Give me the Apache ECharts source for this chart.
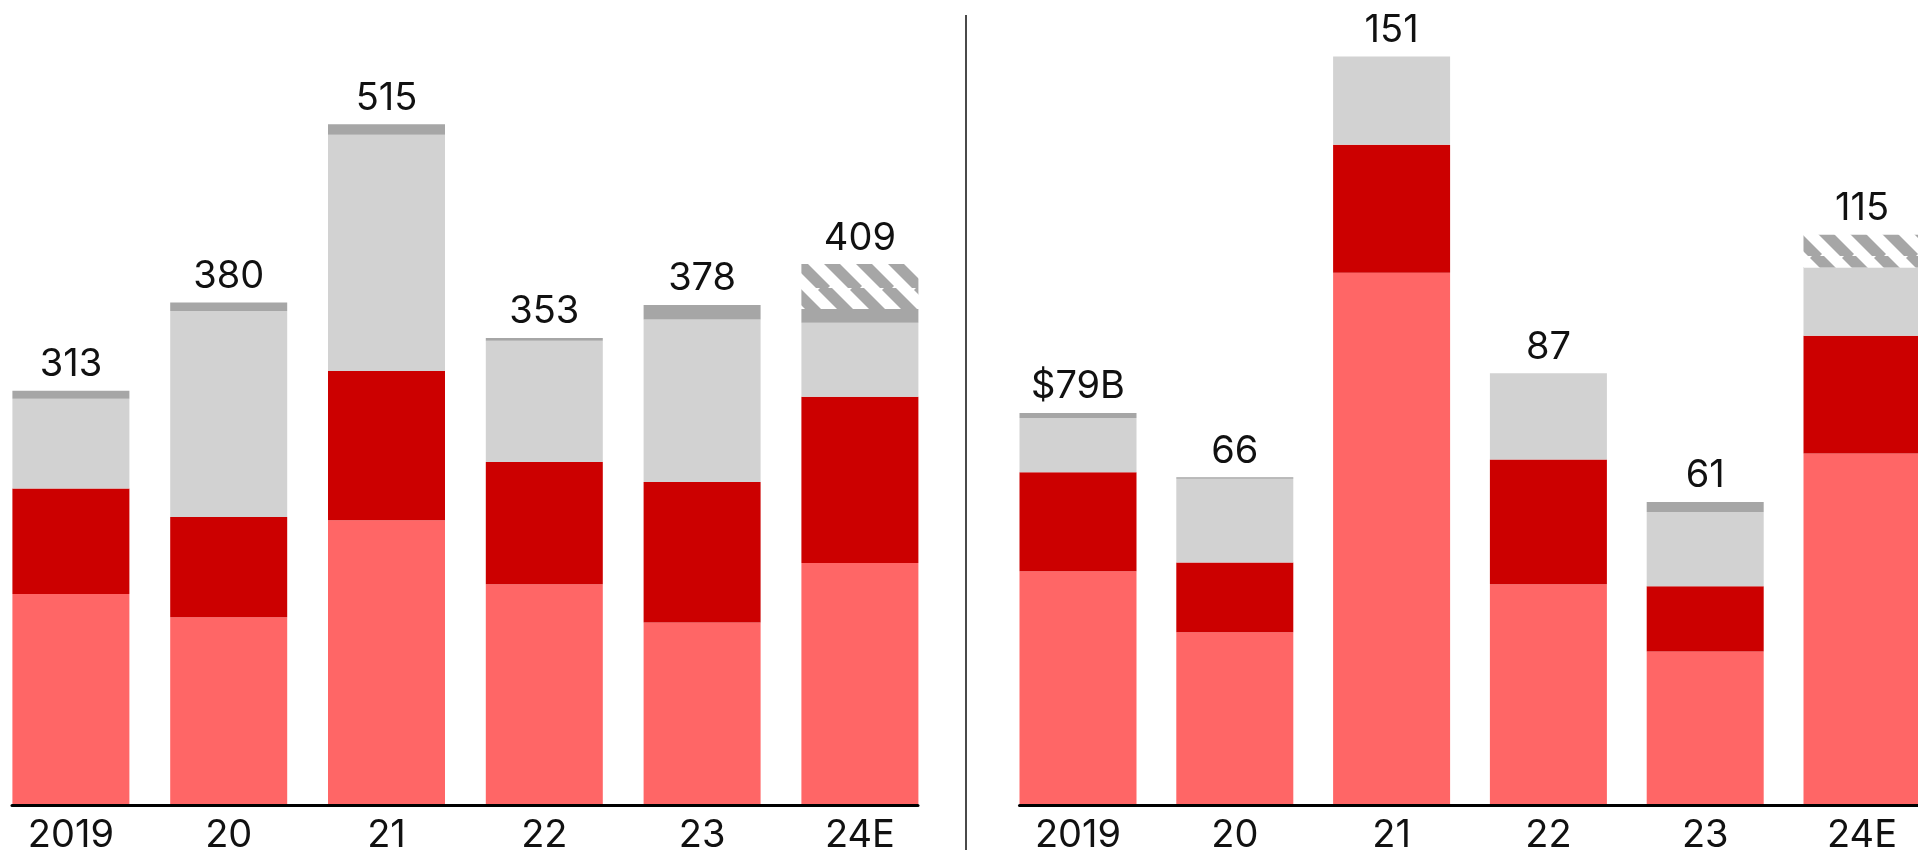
<!DOCTYPE html>
<html>
<head>
<meta charset="utf-8">
<script src="https://cdn.jsdelivr.net/npm/echarts@6/dist/echarts.min.js"></script>
<style>
  html, body { margin: 0; padding: 0; background: #ffffff; overflow: hidden; }
  /* canvas runs 40px past both window edges so the outer bars can sit flush */
  #chart { width: 1998px; height: 855px; margin-left: -40px; }
</style>
</head>
<body>
<div id="chart"></div>
<script>
// Year labels shared by both panels
const years = ['2019', '20', '21', '22', '23', '24E'];

// Left panel segments (bottom to top)
const leftBase  = [159, 141.5, 215, 166.5, 137.5, 182.5];
const leftRed   = [80, 76, 113, 92.5, 106.5, 126];
const leftLight = [68, 156, 179, 92, 123, 56];
const leftDark  = [6, 6.5, 8, 2, 11, 10.5];
const leftHatch = [0, 0, 0, 0, 0, 34];

// Right panel segments (bottom to top), $B
const rightBase  = [47, 34.7, 107.3, 44.4, 30.8, 70.8];
const rightRed   = [20, 14.1, 25.9, 25.2, 13.2, 23.8];
const rightLight = [11, 16.9, 17.8, 17.4, 15.0, 13.8];
const rightDark  = [1, 0.3, 0, 0, 2.0, 0];
const rightHatch = [0, 0, 0, 0, 0, 6.6];

const COLORS = { base: '#ff6666', red: '#cc0000', light: '#d2d2d2', dark: '#a6a6a6' };
const FONT = 'Inter, "Noto Sans", sans-serif';
const OFFSET = 40; // horizontal shift of the canvas inside the window

// Diagonal stripe tile for the estimate segment
function stripeTile() {
  const s = 32;
  const c = document.createElement('canvas');
  c.width = s; c.height = s;
  const g = c.getContext('2d');
  g.fillStyle = '#ffffff';
  g.fillRect(0, 0, s, s);
  g.strokeStyle = COLORS.dark;
  g.lineWidth = 11.3;
  for (const off of [-s, 0, s]) {
    g.beginPath();
    g.moveTo(off - 2, -2);
    g.lineTo(off + s + 2, s + 2);
    g.stroke();
  }
  return c;
}
const hatchFill = { image: stripeTile(), repeat: 'repeat' };

function totals(parts) {
  return years.map((_, i) => parts.reduce((a, p) => a + p[i], 0));
}
const leftTotals = totals([leftBase, leftRed, leftLight, leftDark, leftHatch]);
const rightTotals = totals([rightBase, rightRed, rightLight, rightDark, rightHatch]);

function panelSeries(axisIdx, stack, parts, tot, fmt) {
  const names = ['Base', 'Core', 'Other', 'Minor', 'Estimate'];
  const fills = [COLORS.base, COLORS.red, COLORS.light, COLORS.dark, hatchFill];
  return parts.map((d, k) => ({
    type: 'bar',
    name: names[k],
    xAxisIndex: axisIdx,
    yAxisIndex: axisIdx,
    stack: stack,
    barWidth: 117,
    data: d,
    itemStyle: { color: fills[k] },
    silent: true,
    label: k === parts.length - 1 ? {
      show: true,
      position: 'top',
      distance: 7,
      fontFamily: FONT,
      fontSize: 38,
      color: '#111111',
      formatter: p => fmt(Math.round(tot[p.dataIndex]), p.dataIndex)
    } : { show: false }
  }));
}

const barX = (idx) => ({
  type: 'category',
  gridIndex: idx,
  data: years,
  axisLine: { show: false },
  axisTick: { show: false },
  axisLabel: { fontFamily: FONT, fontSize: 38, color: '#111111', margin: 13, interval: 0 }
});
const barY = (idx, max) => ({
  type: 'value', gridIndex: idx, min: 0, max: max,
  show: false, splitLine: { show: false }
});
const baseX = (idx) => ({
  type: 'value', gridIndex: idx, min: 0, max: 1,
  axisLine: { show: true, lineStyle: { color: '#000000', width: 3 } },
  axisTick: { show: false }, axisLabel: { show: false }, splitLine: { show: false }
});
const baseY = (idx) => ({ type: 'value', gridIndex: idx, min: 0, max: 1, show: false, splitLine: { show: false } });

const chart = echarts.init(document.getElementById('chart'), null, { renderer: 'canvas' });
chart.setOption({
  animation: false,
  backgroundColor: '#ffffff',
  grid: [
    { left: OFFSET - 8, top: 12, width: 946.8, height: 792 },
    { left: OFFSET + 999.6, top: 12, width: 940.8, height: 792 },
    { left: OFFSET + 12, top: 12, width: 906, height: 793.5 },
    { left: OFFSET + 1019.5, top: 12, width: 920, height: 793.5 }
  ],
  xAxis: [barX(0), barX(1), baseX(2), baseX(3)],
  yAxis: [barY(0, 600), barY(1, 160), baseY(2), baseY(3)],
  graphic: [{
    type: 'line',
    silent: true,
    shape: { x1: OFFSET + 966, y1: 15, x2: OFFSET + 966, y2: 850 },
    style: { stroke: '#4a4a4a', lineWidth: 2 }
  }],
  series: [
    ...panelSeries(0, 'left', [leftBase, leftRed, leftLight, leftDark, leftHatch], leftTotals,
      (v) => String(v)),
    ...panelSeries(1, 'right', [rightBase, rightRed, rightLight, rightDark, rightHatch], rightTotals,
      (v, i) => i === 0 ? '$' + v + 'B' : String(v))
  ]
});
</script>
</body>
</html>
